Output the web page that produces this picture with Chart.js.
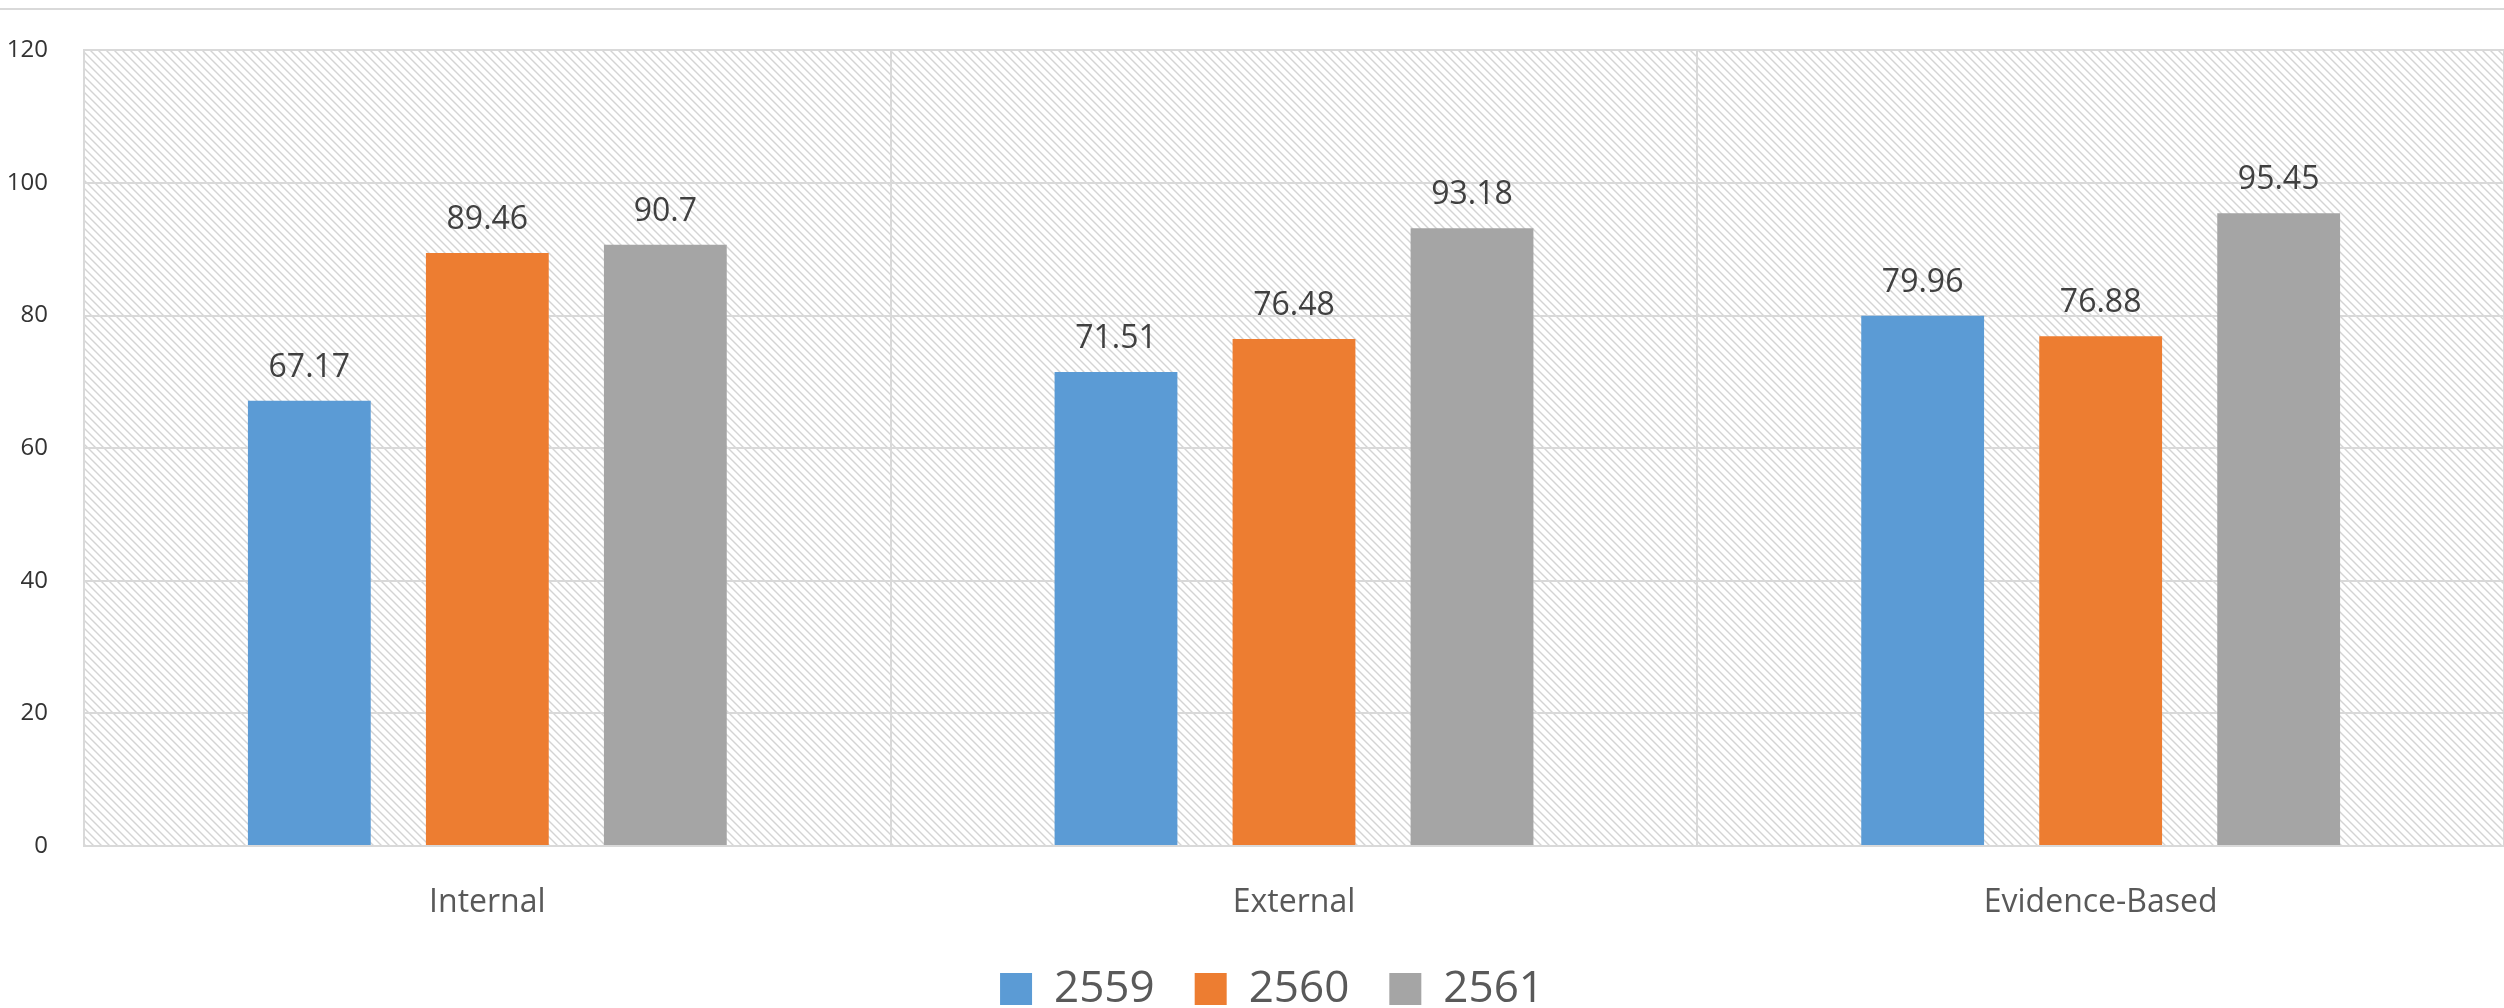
<!DOCTYPE html>
<html>
<head>
<meta charset="utf-8">
<script src="https://cdn.jsdelivr.net/npm/chart.js@4/dist/chart.umd.min.js"></script>
<style>
  html, body { margin:0; padding:0; background:#fff; }
  #wrap { position:relative; width:2504px; height:1008px; }
  #topline { position:absolute; left:0; top:8px; width:2504px; height:2px; background:#d9d9d9; }
  canvas { position:absolute; left:0; top:0; }
</style>
</head>
<body>
<div id="wrap">
  <div id="topline"></div>
  <canvas id="chart" width="2504" height="1008"></canvas>
</div>
<script>
// categories, years and values
const categories = ["Internal", "External", "Evidence-Based"];
const years = ["2559", "2560", "2561"];
const v2559 = [67.17, 71.51, 79.96];
const v2560 = [89.46, 76.48, 76.88];
const v2561 = [90.7, 93.18, 95.45];
const yTicks = [0, 20, 40, 60, 80, 100, 120];

const colors = ["#5B9BD5", "#ED7D31", "#A5A5A5"];
const FONT = "'Open Sans', 'Noto Sans', sans-serif";

// hatched plot background (light downward diagonal)
function makeHatch() {
  let c = document.createElement("canvas");
  c.width = 8; c.height = 8;
  let g = c.getContext("2d");
  g.fillStyle = "#fff"; g.fillRect(0, 0, 8, 8);
  g.strokeStyle = "#d4d4d4"; g.lineWidth = 1.4;
  g.beginPath();
  g.moveTo(-2, -2); g.lineTo(10, 10);
  g.moveTo(-2, 6); g.lineTo(2, 10);
  g.moveTo(6, -2); g.lineTo(10, 2);
  g.stroke();
  return c;
}

const hatchBg = {
  id: "hatchBg",
  beforeDraw(chart) {
    let a = chart.chartArea, ctx = chart.ctx;
    ctx.save();
    ctx.fillStyle = ctx.createPattern(makeHatch(), "repeat");
    ctx.fillRect(a.left, a.top, a.right - a.left, a.bottom - a.top);
    ctx.restore();
  }
};

// legend sits centred under the plot area rather than the whole canvas
const legendShift = {
  id: "legendShift",
  afterLayout(chart) {
    if (chart.legend) chart.legend.left += 40;
  }
};

// value labels above bars
const valueLabels = {
  id: "valueLabels",
  afterDatasetsDraw(chart) {
    let ctx = chart.ctx;
    ctx.save();
    ctx.font = "32px " + FONT;
    ctx.fillStyle = "#404040";
    ctx.textAlign = "center";
    ctx.textBaseline = "alphabetic";
    chart.data.datasets.forEach((ds, i) => {
      chart.getDatasetMeta(i).data.forEach((bar, j) => {
        ctx.fillText(String(ds.data[j]), bar.x, bar.y - 24);
      });
    });
    ctx.restore();
  }
};

new Chart(document.getElementById("chart"), {
  type: "bar",
  data: {
    labels: categories,
    datasets: [
      { label: years[0], data: v2559, backgroundColor: colors[0] },
      { label: years[1], data: v2560, backgroundColor: colors[1] },
      { label: years[2], data: v2561, backgroundColor: colors[2] }
    ]
  },
  options: {
    responsive: false,
    animation: false,
    devicePixelRatio: 1,
    categoryPercentage: 0.662,
    barPercentage: 0.69,
    layout: { padding: { top: 47, right: 0, bottom: -13, left: 0 } },
    scales: {
      x: {
        grid: { offset: true, color: "#d9d9d9", lineWidth: 2, drawTicks: false },
        border: { display: true, color: "#d9d9d9", width: 2 },
        ticks: { color: "#595959", font: { family: FONT, size: 32 }, padding: 38 },
        afterFit(s) { s.height = 81; }
      },
      y: {
        min: 0, max: 120,
        afterBuildTicks(s) { s.ticks = yTicks.map(v => ({ value: v })); },
        grid: { color: "#d9d9d9", lineWidth: 2, drawTicks: false },
        border: { display: true, color: "#d9d9d9", width: 2 },
        ticks: { color: "#333333", font: { family: FONT, size: 24 }, padding: 36 },
        afterFit(s) { s.width = 84; }
      }
    },
    plugins: {
      tooltip: { enabled: false },
      legend: {
        position: "bottom",
        labels: {
          boxWidth: 32, boxHeight: 32, padding: 40,
          color: "#595959", font: { family: FONT, size: 44 }
        }
      }
    }
  },
  plugins: [hatchBg, legendShift, valueLabels]
});
</script>
</body>
</html>
